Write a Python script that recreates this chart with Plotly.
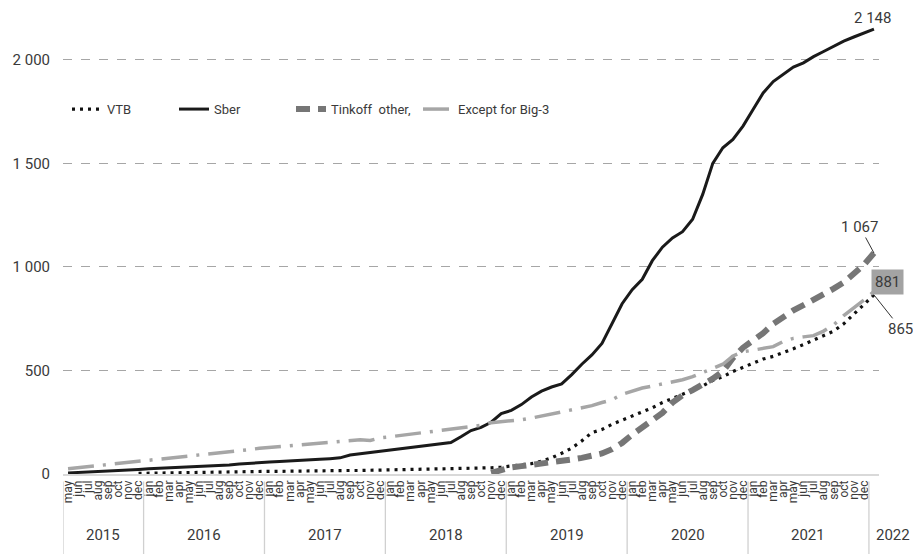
import plotly.graph_objects as go

# ---------------- data ----------------
month_names = ["jan", "feb", "mar", "apr", "may", "jun", "jul", "aug", "sep", "oct", "nov", "dec"]
years = ["2015", "2016", "2017", "2018", "2019", "2020", "2021", "2022"]
# categories: may 2015 .. jan 2022 (last one unlabeled)
month_labels = month_names[4:] + month_names * 6 + [""]

sber = [5, 7, 9, 11, 13, 16, 19, 22,
        25, 27, 29, 31, 33, 35, 38, 41, 44, 48, 52, 55,
        58, 60, 62, 65, 68, 71, 74, 78, 92, 98, 104, 110,
        117, 122, 128, 134, 140, 147, 152, 180, 210, 225, 250, 292,
        307, 335, 372, 400, 420, 435, 480, 530, 575, 630, 730, 822,
        890, 940, 1030, 1095, 1140, 1170, 1230, 1350, 1500, 1575, 1615, 1680,
        1760, 1840, 1895, 1930, 1965, 1985, 2015, 2040, 2065, 2090, 2110, 2130,
        2148]

vtb = [None, None, None, None, None, None, None, 3,
       4, 5, 6, 7, 7, 8, 9, 10, 10, 11, 12, 12,
       13, 13, 14, 14, 15, 15, 16, 16, 17, 17, 18, 18,
       19, 19, 20, 20, 21, 22, 23, 24, 26, 28, 30, 33,
       38, 43, 50, 62, 78, 100, 125, 160, 200, 215, 240, 260,
       280, 297, 320, 345, 365, 385, 405, 425, 452, 470, 495, 515,
       535, 555, 568, 585, 605, 625, 648, 668, 690, 725, 770, 820,
       865]

tinkoff = [None] * 42 + [5, 20,
           32, 38, 43, 48, 55, 62, 70, 78, 88, 99, 120, 150,
           190, 225, 255, 295, 345, 380, 405, 430, 460, 495, 560, 610,
           645, 680, 725, 760, 790, 815, 840, 865, 895, 925, 965, 1010,
           1067]

except_big3 = [25, 30, 35, 40, 45, 50, 55, 62,
               67, 72, 77, 82, 86, 90, 95, 100, 107, 113, 118, 124,
               128, 132, 135, 138, 142, 146, 150, 155, 160, 165, 162, 175,
               180, 186, 192, 198, 205, 210, 215, 220, 225, 235, 248, 252,
               256, 262, 270, 280, 290, 300, 310, 320, 330, 345, 358, 385,
               400, 415, 425, 435, 445, 455, 470, 490, 510, 530, 570, 590,
               598, 605, 615, 640, 655, 662, 668, 690, 720, 765, 800, 840,
               881]

series_names = ["VTB", "Sber", "Tinkoff  other,", "Except for Big-3"]
y_ticks = [0, 500, 1000, 1500, 2000]
y_tick_text = ["0", "500", "1 000", "1 500", "2 000"]

# ---------------- figure ----------------
x = list(range(len(month_labels)))
FONT = "Roboto, sans-serif"
TXT = "#3a3a3a"

# page body has an 8px default margin -> figure drawn at (8, 8)
OFF = 8
W, H = 921 - OFF, 554 - OFF
L, R, T, B = 63 - OFF, 42, 0, 80
PW = W - L - R


def px_to_paper_x(px):
    # px = page pixel coordinate
    return (px - OFF - L) / PW


fig = go.Figure()
fig.add_trace(go.Scatter(x=x, y=vtb, name=series_names[0], mode="lines",
                         line=dict(color="#111111", width=3.2, dash="3px,5px"),
                         legend="legend"))
fig.add_trace(go.Scatter(x=x, y=sber, name=series_names[1], mode="lines",
                         line=dict(color="#1a1a1a", width=3),
                         legend="legend2"))
fig.add_trace(go.Scatter(x=x, y=tinkoff, name=series_names[2], mode="lines",
                         line=dict(color="#767676", width=6, dash="14px,8px"),
                         legend="legend3"))
fig.add_trace(go.Scatter(x=x, y=except_big3, name=series_names[3], mode="lines",
                         line=dict(color="#a6a6a6", width=3.5, dash="26px,9px,3px,9px"),
                         legend="legend4"))

leg_common = dict(orientation="h", yanchor="middle", y=0.783, xanchor="left",
                  bgcolor="rgba(0,0,0,0)", font=dict(family=FONT, size=13, color=TXT),
                  itemwidth=30)
fig.update_layout(
    legend=dict(x=px_to_paper_x(67), **leg_common),
    legend2=dict(x=px_to_paper_x(174), **leg_common),
    legend3=dict(x=px_to_paper_x(291), **leg_common),
    legend4=dict(x=px_to_paper_x(418), **leg_common),
)

# year labels and separators
year_bounds = [-0.5, 7.5, 19.5, 31.5, 43.5, 55.5, 67.5, 79.5]
annotations = []
for i, yr in enumerate(years):
    if i < len(year_bounds) - 1:
        xc = (year_bounds[i] + year_bounds[i + 1]) / 2
        annotations.append(dict(x=xc, y=-0.131, xref="x", yref="paper", text=yr,
                                showarrow=False, font=dict(family=FONT, size=15, color=TXT),
                                yanchor="middle", xanchor="center"))
    else:
        annotations.append(dict(x=px_to_paper_x(893), y=-0.131, xref="paper", yref="paper",
                                text=yr, showarrow=False,
                                font=dict(family=FONT, size=15, color=TXT),
                                yanchor="middle", xanchor="center"))
shapes = []
for xb in year_bounds:
    shapes.append(dict(type="line", xref="x", yref="paper", x0=xb, x1=xb,
                       y0=-0.016, y1=-0.175, line=dict(color="#d0d0d0", width=1.3)))

last = len(x) - 1
annotations += [
    dict(x=last, y=sber[last], xref="x", yref="y", text="2 148", showarrow=False,
         yshift=11, xshift=-1, font=dict(family=FONT, size=15, color=TXT)),
    dict(x=last, y=tinkoff[last], xref="x", yref="y", text="1 067", showarrow=True,
         arrowhead=0, arrowwidth=1, arrowcolor="#333333", ax=-14, ay=-26,
         font=dict(family=FONT, size=15, color=TXT)),
    dict(x=last, y=except_big3[last], xref="x", yref="y", text="881", showarrow=False,
         xshift=14, yshift=10, bgcolor="#a3a3a3", borderpad=3,
         font=dict(family=FONT, size=15, color=TXT)),
    dict(x=last, y=vtb[last], xref="x", yref="y", text="865", showarrow=True,
         arrowhead=0, arrowwidth=1, arrowcolor="#333333", ax=27, ay=34,
         font=dict(family=FONT, size=15, color=TXT)),
]

fig.update_layout(
    width=W, height=H,
    margin=dict(l=L, r=R, t=T, b=B, autoexpand=False),
    plot_bgcolor="white", paper_bgcolor="white",
    font=dict(family=FONT, color=TXT),
    showlegend=True,
    xaxis=dict(range=[-0.5, last + 0.5], tickmode="array", tickvals=x, ticktext=month_labels,
               tickangle=-90, tickfont=dict(family=FONT, size=12, color=TXT),
               showgrid=False, zeroline=False, showline=True, linecolor="#d9d9d9", linewidth=1.5,
               ticks="", automargin=False, fixedrange=True),
    yaxis=dict(range=[0, 2250], tickmode="array", tickvals=y_ticks, ticktext=y_tick_text,
               tickfont=dict(family=FONT, size=15, color=TXT),
               showgrid=True, gridcolor="#a6a6a6", griddash="dash", gridwidth=1,
               zeroline=False, showline=False, ticks="", ticklabelstandoff=12,
               automargin=False),
    annotations=annotations,
    shapes=shapes,
)

fig.write_html("out.html")
